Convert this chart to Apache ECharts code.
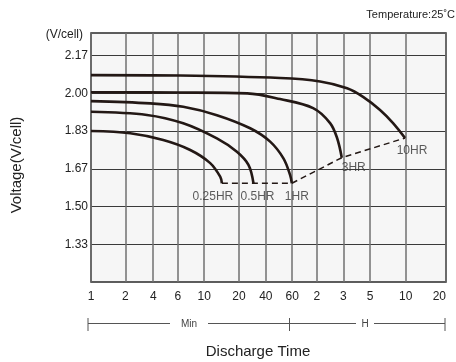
<!DOCTYPE html>
<html><head><meta charset="utf-8">
<script src="https://cdn.jsdelivr.net/npm/echarts@6/dist/echarts.min.js"></script>
<style>html,body{margin:0;padding:0;background:#fff}#c{width:456px;height:362px}</style>
</head><body><div id="c"></div>
<script>
// x axis: tick positions on the (non-uniform) time axis and their labels
const xTickValues = [0, 34.3, 62.3, 87, 113.3, 148, 175, 201.3, 226, 252.6, 279.3, 315, 355.3];
const xTickLabels = ['1','2','4','6','10','20','40','60','2','3','5','10','20'];
// y axis ticks (V/cell)
const yTickValues = [8/6, 9/6, 10/6, 11/6, 12/6, 13/6];
// discharge curves: [time-axis position, voltage]
const curve025HR = [[0,1.834],[39.3,1.824],[72.3,1.794],[99.3,1.750],[119.3,1.692],[129.3,1.632],[131,1.603]];
const curve05HR  = [[0,1.919],[56,1.905],[92.3,1.868],[126,1.801],[146,1.742],[157.6,1.684],[162.6,1.603]];
const curve1HR   = [[0,1.966],[59.3,1.956],[92.3,1.941],[126,1.904],[159.3,1.846],[179.3,1.787],[192.6,1.713],[199.3,1.639],[201,1.603]];
const curve3HR   = [[0,2.005],[89.3,2.004],[156.3,2.000],[189.3,1.975],[222.3,1.935],[239.3,1.869],[246.3,1.803],[251,1.716]];
const curve10HR  = [[0,2.081],[89.3,2.079],[189.3,2.068],[229.3,2.053],[256.3,2.023],[272.3,1.985],[289.3,1.927],[302.3,1.869],[314.3,1.803]];
const curveNames = ['0.25HR','0.5HR','1HR','3HR','10HR'];
// end-voltage line through the curve end points
const endLine = [[131,1.603],[201,1.603],[251,1.716],[314.3,1.803]];

const curves = [curve025HR, curve05HR, curve1HR, curve3HR, curve10HR];
const labelOffsets = [[-9,13],[4,13],[5,13],[12,10],[7,13]];
const ink = '#231815';

const chart = echarts.init(document.getElementById('c'), null, {renderer:'canvas'});
const series = curves.map((d,i)=>({
  type:'line', name:curveNames[i], data:d, smooth:0.35, showSymbol:false, symbol:'none',
  lineStyle:{color:ink, width:2.6}, z:5, animation:false
}));
series.push({type:'line', name:'end', data:endLine, showSymbol:false, symbol:'none',
  lineStyle:{color:ink, width:1.5, type:[6,4]}, z:4, animation:false});
series.push({type:'scatter', name:'labels', symbolSize:0, z:6, animation:false,
  data: curves.map((d,i)=>({value:d[d.length-1], label:{show:true, formatter:curveNames[i], offset:labelOffsets[i]}})),
  label:{show:true, position:'inside', color:'#333', fontSize:12, fontFamily:'Liberation Sans, Arial, sans-serif'}
});

const font = 'Liberation Sans, Arial, sans-serif';
chart.setOption({
  animation:false,
  backgroundColor:'#fff',
  grid:{left:91, right:10, top:33, bottom:80, show:true, backgroundColor:'#f6f6f6', borderColor:'#2a2a2a', borderWidth:1.5},
  xAxis:{type:'value', min:0, max:355.3,
    axisLine:{show:false}, axisTick:{show:false, customValues:xTickValues},
    axisLabel:{customValues:xTickValues, margin:9, color:'#222', fontSize:12, fontFamily:font,
      alignMaxLabel:'right',
      formatter:(v)=>{const i=xTickValues.findIndex(t=>Math.abs(t-v)<0.01); return i>=0?xTickLabels[i]:'';}},
    splitLine:{show:true, lineStyle:{color:'#707070', width:1.5}}
  },
  yAxis:{type:'value', min:7/6, max:2.267,
    axisLine:{show:false}, axisTick:{show:false, customValues:yTickValues},
    axisLabel:{customValues:yTickValues, margin:3, color:'#222', fontSize:12, fontFamily:font,
      formatter:(v)=>v.toFixed(2)},
    splitLine:{show:true, lineStyle:{color:'#3a3a3a', width:1}}
  },
  series:series,
  graphic:[
    {type:'text', right:1, top:9, style:{text:'Temperature:25˚C', fontSize:11, fontFamily:font, fill:'#222'}},
    {type:'text', x:83, y:35, style:{text:'(V/cell)', fontSize:12, fontFamily:font, fill:'#222', align:'right', verticalAlign:'middle'}},
    {type:'text', x:17, y:165, rotation:Math.PI/2, style:{text:'Voltage(V/cell)', fontSize:15, fontFamily:font, fill:'#222', align:'center', verticalAlign:'middle'}},
    {type:'text', x:258, y:352, style:{text:'Discharge Time', fontSize:15, fontFamily:font, fill:'#222', align:'center', verticalAlign:'middle'}},
    {type:'line', shape:{x1:88,y1:323.5,x2:170,y2:323.5}, style:{stroke:'#555', lineWidth:1}},
    {type:'line', shape:{x1:208,y1:323.5,x2:289.5,y2:323.5}, style:{stroke:'#555', lineWidth:1}},
    {type:'line', shape:{x1:289.5,y1:323.5,x2:356,y2:323.5}, style:{stroke:'#555', lineWidth:1}},
    {type:'line', shape:{x1:374,y1:323.5,x2:445,y2:323.5}, style:{stroke:'#555', lineWidth:1}},
    {type:'line', shape:{x1:88,y1:318,x2:88,y2:331}, style:{stroke:'#555', lineWidth:1}},
    {type:'line', shape:{x1:289.5,y1:318,x2:289.5,y2:331}, style:{stroke:'#555', lineWidth:1}},
    {type:'line', shape:{x1:445,y1:318,x2:445,y2:331}, style:{stroke:'#555', lineWidth:1}},
    {type:'text', x:189, y:324, style:{text:'Min', fontSize:10, fontFamily:font, fill:'#444', align:'center', verticalAlign:'middle'}},
    {type:'text', x:365, y:324, style:{text:'H', fontSize:10, fontFamily:font, fill:'#444', align:'center', verticalAlign:'middle'}}
  ]
});
</script></body></html>
